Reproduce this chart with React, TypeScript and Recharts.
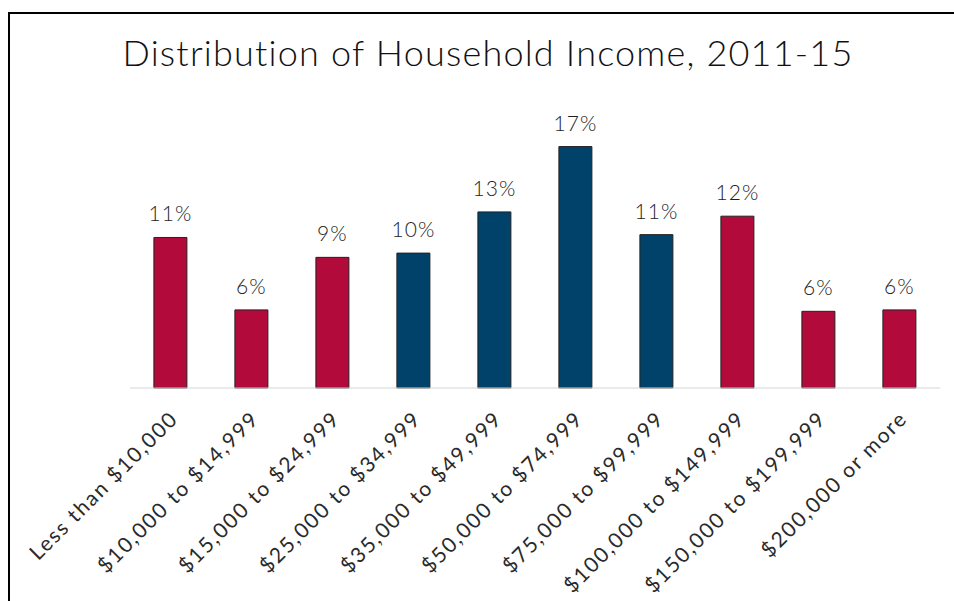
import React from 'react';
import { BarChart, Bar, XAxis, YAxis, Cell, LabelList } from 'recharts';

const categories = [
  'Less than $10,000',
  '$10,000 to $14,999',
  '$15,000 to $24,999',
  '$25,000 to $34,999',
  '$35,000 to $49,999',
  '$50,000 to $74,999',
  '$75,000 to $99,999',
  '$100,000 to $149,999',
  '$150,000 to $199,999',
  '$200,000 or more',
];
const shares = [10.6, 5.5, 9.2, 9.5, 12.4, 17.0, 10.8, 12.1, 5.4, 5.5];
const shareLabels = ['11%', '6%', '9%', '10%', '13%', '17%', '11%', '12%', '6%', '6%'];
const groups = ['low', 'low', 'low', 'middle', 'middle', 'middle', 'middle', 'high', 'high', 'high'];

const TITLE = 'Distribution of Household Income, 2011-15';
const groupColor: Record<string, string> = { low: '#B20A3B', middle: '#00426A', high: '#B20A3B' };

const data = categories.map((c, i) => ({ name: c, value: shares[i], label: shareLabels[i], group: groups[i] }));

const FONT = 'Lato, "Open Sans", sans-serif';

const Tick = (props: any) => {
  const { x, y, payload } = props;
  const ax = x + 9;
  const ay = y + 32;
  return (
    <text
      x={ax}
      y={ay}
      textAnchor="end"
      fontFamily={FONT}
      fontSize={21}
      letterSpacing={1.8}
      fill="#2a2a2a"
      transform={`rotate(-45, ${ax}, ${ay})`}
    >
      {payload.value}
    </text>
  );
};

const ValueLabel = (props: any) => {
  const { x, y, width, index } = props;
  return (
    <text
      x={x + width / 2}
      y={y - 16}
      textAnchor="middle"
      fontFamily={FONT}
      fontWeight={300}
      fontSize={21}
      letterSpacing={1}
      fill="#1e1e1e"
    >
      {shareLabels[index]}
    </text>
  );
};

export default function App() {
  return (
    <div style={{ position: 'absolute', left: 0, top: 0, width: 954, height: 601, background: '#fff', overflow: 'hidden' }}>
      <div
        style={{
          position: 'absolute',
          left: 8,
          top: 12,
          width: 960,
          height: 600,
          borderTop: '2px solid #000',
          borderLeft: '2px solid #000',
        }}
      />
      <div
        style={{
          position: 'absolute',
          left: 0,
          top: 30,
          width: 976,
          textAlign: 'center',
          fontFamily: FONT,
          fontWeight: 300,
          fontSize: 36,
          letterSpacing: 1.2,
          color: '#111',
          lineHeight: '44px',
        }}
      >
        {TITLE}
      </div>
      <div style={{ position: 'absolute', left: 0, top: 0 }}>
        <BarChart
          width={954}
          height={601}
          data={data}
          margin={{ top: 104, right: 14, bottom: 0, left: 130 }}
          barCategoryGap="29.5%"
        >
          <YAxis hide domain={[0, 20]} />
          <XAxis
            dataKey="name"
            interval={0}
            height={213}
            tickSize={0}
            tickMargin={0}
            tickLine={false}
            axisLine={{ stroke: '#d4d4d4', strokeWidth: 1 }}
            tick={<Tick />}
          />
          <Bar dataKey="value" stroke="#222" strokeWidth={1} isAnimationActive={false}>
            {data.map((d, i) => (
              <Cell key={i} fill={groupColor[d.group]} />
            ))}
            <LabelList dataKey="label" content={<ValueLabel />} />
          </Bar>
        </BarChart>
      </div>
    </div>
  );
}
